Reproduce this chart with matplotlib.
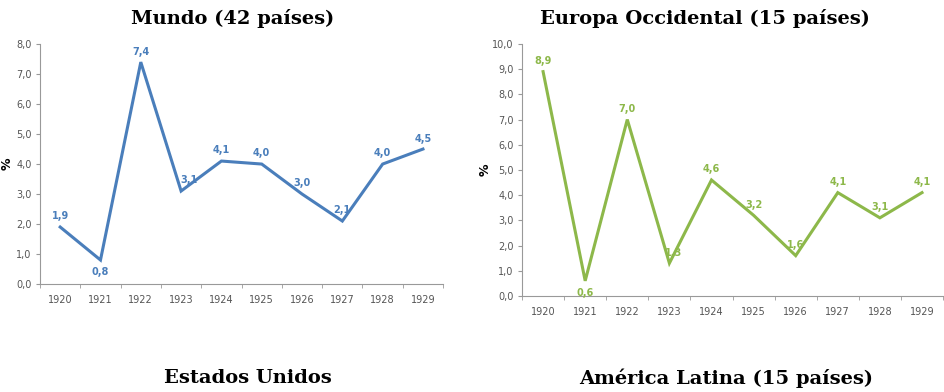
import matplotlib.pyplot as plt
import numpy as np

years = ["1920", "1921", "1922", "1923", "1924", "1925", "1926", "1927", "1928", "1929"]
mundo = [1.9, 0.8, 7.4, 3.1, 4.1, 4.0, 3.0, 2.1, 4.0, 4.5]
europa = [8.9, 0.6, 7.0, 1.3, 4.6, 3.2, 1.6, 4.1, 3.1, 4.1]

BLUE = "#4a7ebb"
GREEN = "#8db84a"
AXIS_GRAY = "#999999"
TICK_GRAY = "#555555"
NARROW = ["Liberation Sans Narrow", "DejaVu Sans"]


def fmt(v):
    return f"{v:.1f}".replace(".", ",")


def draw_panel(ax, values, color, ymax, below, nudge, ylab_x):
    x = np.arange(len(values))
    ax.plot(x, values, color=color, lw=2.2, solid_joinstyle="miter")
    for i, v in enumerate(values):
        dx = nudge.get(i, 0)
        if i in below:
            off, va = (dx, -5), "top"
        else:
            off, va = (dx, 4), "bottom"
        ax.annotate(fmt(v), (i, v), xytext=off, textcoords="offset points",
                    ha="center", va=va, fontsize=7, color=color,
                    fontweight="bold", family=NARROW)
    ax.set_xlim(-0.5, len(values) - 0.5)
    ax.set_ylim(0, ymax)
    yt = np.arange(0, ymax + 0.01, 1.0)
    ax.set_yticks(yt)
    ax.set_yticklabels([fmt(t) for t in yt])
    # category labels in the middle, tick marks on the boundaries
    ax.set_xticks(x)
    ax.set_xticklabels(years)
    ax.set_xticks(np.arange(-0.5, len(values)), minor=True)
    ax.tick_params(axis="x", which="major", length=0, pad=8)
    ax.tick_params(axis="x", which="minor", length=3, color=AXIS_GRAY)
    ax.tick_params(axis="y", length=3, color=AXIS_GRAY, pad=3)
    ax.tick_params(labelsize=7, labelcolor=TICK_GRAY)
    for lab in ax.get_xticklabels() + ax.get_yticklabels():
        lab.set_family(NARROW)
    for s in ("top", "right"):
        ax.spines[s].set_visible(False)
    for s in ("left", "bottom"):
        ax.spines[s].set_color(AXIS_GRAY)
        ax.spines[s].set_linewidth(0.8)
    ax.set_ylabel("%", fontsize=9, fontweight="bold")
    ax.yaxis.set_label_coords(ylab_x, 0.5)


fig = plt.figure(figsize=(9.44, 3.92), dpi=100)

ax1 = fig.add_axes([0.0424, 0.2755, 0.427, 0.612])
draw_panel(ax1, mundo, BLUE, 8.0, below={1}, nudge={3: 6}, ylab_x=-0.065)

ax2 = fig.add_axes([0.553, 0.245, 0.446, 0.643])
draw_panel(ax2, europa, GREEN, 10.0, below={1}, nudge={3: 3}, ylab_x=-0.072)

title_kw = dict(fontsize=14, fontweight="bold", family="DejaVu Serif",
                ha="center", va="center")
fig.text(233 / 944, 1 - 18 / 392, "Mundo (42 países)", **title_kw)
fig.text(705 / 944, 1 - 18 / 392, "Europa Occidental (15 países)", **title_kw)
fig.text(248 / 944, 1 - 378 / 392, "Estados Unidos", **title_kw)
fig.text(726 / 944, 1 - 378 / 392, "América Latina (15 países)", **title_kw)

fig.savefig("out.png", dpi=100)
